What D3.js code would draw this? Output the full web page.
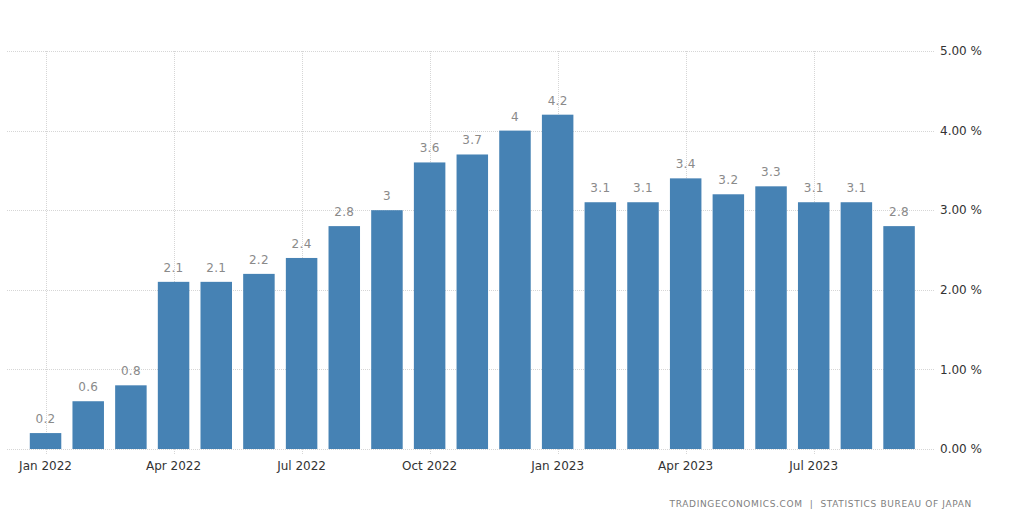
<!DOCTYPE html>
<html><head><meta charset="utf-8">
<script src="https://cdn.jsdelivr.net/npm/d3@7"></script>
<style>html,body{margin:0;padding:0;background:#fff;}svg{display:block;}</style>
</head><body>
<svg id="chart" width="1027" height="520"></svg>
<script>
const months = ["Jan 2022","Feb 2022","Mar 2022","Apr 2022","May 2022","Jun 2022","Jul 2022","Aug 2022","Sep 2022","Oct 2022","Nov 2022","Dec 2022","Jan 2023","Feb 2023","Mar 2023","Apr 2023","May 2023","Jun 2023","Jul 2023","Aug 2023","Sep 2023"];
const values = [0.2,0.6,0.8,2.1,2.1,2.2,2.4,2.8,3,3.6,3.7,4,4.2,3.1,3.1,3.4,3.2,3.3,3.1,3.1,2.8];
const xTickLabels = ["Jan 2022","Apr 2022","Jul 2022","Oct 2022","Jan 2023","Apr 2023","Jul 2023"];
const yTicks = [0,1,2,3,4,5];
const source = "TRADINGECONOMICS.COM  |  STATISTICS BUREAU OF JAPAN";

(function(){
const svg = d3.select("#chart");
const font = "'DejaVu Sans', Verdana, sans-serif";
const gridLeft = 7, gridRight = 935, plotTop = 51, plotBottom = 449;

const x = d3.scaleBand().domain(months).range([24.2, 920.4]).paddingInner(0.262).paddingOuter(0.131);
const y = d3.scaleLinear().domain([0,5]).range([plotBottom, plotTop]);

// horizontal grid
svg.append("g").selectAll("line").data(yTicks).join("line")
  .attr("x1", gridLeft).attr("x2", gridRight)
  .attr("y1", d => Math.round(y(d)) + 0.5).attr("y2", d => Math.round(y(d)) + 0.5)
  .attr("stroke", "#d6d6d6").attr("stroke-dasharray", "1,1");

// vertical grid
svg.append("g").selectAll("line").data(xTickLabels).join("line")
  .attr("x1", d => Math.round(x(d) + x.bandwidth()/2) + 0.5)
  .attr("x2", d => Math.round(x(d) + x.bandwidth()/2) + 0.5)
  .attr("y1", plotTop).attr("y2", plotBottom + 5)
  .attr("stroke", "#d6d6d6").attr("stroke-dasharray", "1,1");

// bars
svg.append("g").selectAll("rect").data(values).join("rect")
  .attr("x", (d,i) => x(months[i]))
  .attr("width", x.bandwidth())
  .attr("y", d => y(d))
  .attr("height", d => y(0) - y(d))
  .attr("fill", "#4682b4");

// value labels
svg.append("g").selectAll("text").data(values).join("text")
  .attr("x", (d,i) => x(months[i]) + x.bandwidth()/2)
  .attr("y", d => y(d) - 10)
  .attr("text-anchor", "middle")
  .attr("font-family", font).attr("font-size", 12)
  .attr("letter-spacing", 0.3)
  .attr("fill", "#8a8a8a")
  .text(d => String(d));

// right axis labels
svg.append("g").selectAll("text").data(yTicks).join("text")
  .attr("x", 940)
  .attr("y", d => y(d))
  .attr("dy", "0.35em")
  .attr("font-family", font).attr("font-size", 12)
  .attr("fill", "#333")
  .text(d => d3.format(".2f")(d) + " %");

// x axis labels
svg.append("g").selectAll("text").data(xTickLabels).join("text")
  .attr("x", d => x(d) + x.bandwidth()/2)
  .attr("y", 466)
  .attr("dy", "0.35em")
  .attr("text-anchor", "middle")
  .attr("font-family", font).attr("font-size", 12)
  .attr("fill", "#333")
  .text(d => d);

// source
svg.append("text")
  .attr("x", 972).attr("y", 504).attr("dy", "0.35em")
  .attr("text-anchor", "end")
  .attr("font-family", font).attr("font-size", 9)
  .attr("letter-spacing", 0.65)
  .attr("fill", "#808080")
  .attr("xml:space", "preserve")
  .style("white-space", "pre")
  .text(source);
})();
</script>
</body></html>
